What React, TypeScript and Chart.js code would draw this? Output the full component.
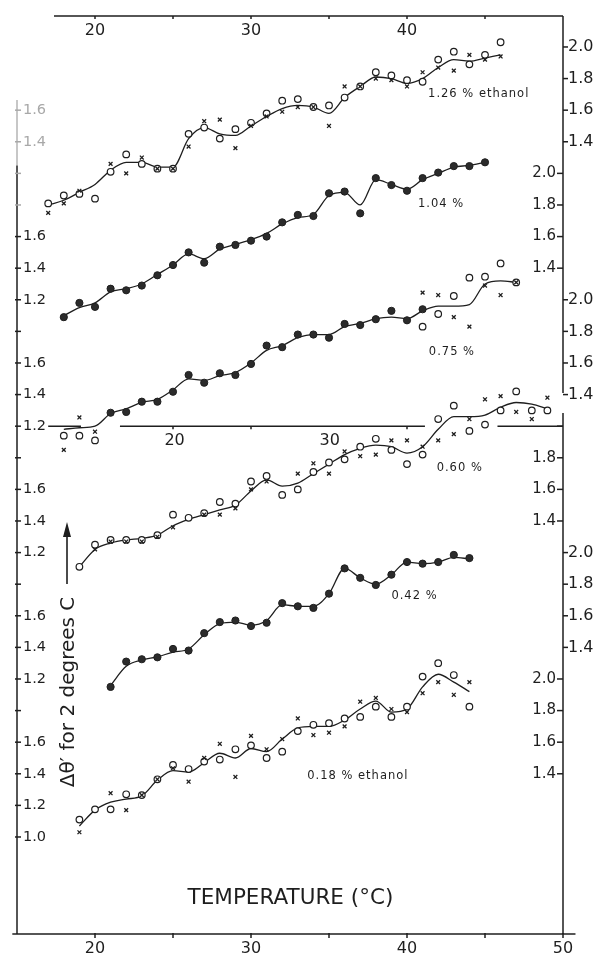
import React, { useEffect, useRef } from "react";
import { Chart, registerables } from "chart.js";

Chart.register(...registerables);

const FONT = '"DejaVu Sans", "Liberation Sans", sans-serif';
const INK = "#1e1e1e";

// ---------- data (values in each curve's own units) ----------
// 1.26 % ethanol
const tempsA = [17, 18, 19, 20, 21, 22, 23, 24, 25, 26, 27, 28, 29, 30, 31, 32, 33, 34, 35, 36, 37, 38, 39, 40, 41, 42, 43, 44, 45, 46];
const openA = [1.01, 1.06, 1.07, 1.04, 1.21, 1.32, 1.26, 1.23, 1.23, 1.45, 1.49, 1.42, 1.48, 1.52, 1.58, 1.66, 1.67, 1.62, 1.63, 1.68, 1.75, 1.84, 1.82, 1.79, 1.78, 1.92, 1.97, 1.89, 1.95, 2.03];
const crossA = [0.95, 1.01, 1.09, null, 1.26, 1.2, 1.3, 1.23, 1.23, 1.37, 1.53, 1.54, 1.36, 1.5, 1.56, 1.59, 1.62, 1.62, 1.5, 1.75, 1.75, 1.8, 1.79, 1.75, 1.84, 1.87, 1.85, 1.95, 1.92, 1.94];
const lineA = [1.0, 1.03, 1.08, 1.13, 1.22, 1.27, 1.27, 1.24, 1.24, 1.42, 1.49, 1.45, 1.44, 1.5, 1.56, 1.61, 1.63, 1.62, 1.58, 1.68, 1.75, 1.81, 1.8, 1.77, 1.8, 1.87, 1.92, 1.91, 1.93, 1.95];

// 1.04 %
const tempsB = [18, 19, 20, 21, 22, 23, 24, 25, 26, 27, 28, 29, 30, 31, 32, 33, 34, 35, 36, 37, 38, 39, 40, 41, 42, 43, 44, 45];
const filledB = [1.09, 1.18, 1.155, 1.27, 1.26, 1.29, 1.355, 1.42, 1.5, 1.435, 1.536, 1.547, 1.574, 1.6, 1.69, 1.737, 1.73, 1.874, 1.885, 1.747, 1.97, 1.926, 1.89, 1.97, 2.005, 2.046, 2.046, 2.07];
const lineB = [1.1, 1.15, 1.18, 1.25, 1.27, 1.3, 1.36, 1.42, 1.49, 1.46, 1.52, 1.55, 1.58, 1.62, 1.68, 1.72, 1.74, 1.86, 1.88, 1.8, 1.96, 1.93, 1.9, 1.96, 2.0, 2.04, 2.05, 2.07];

// 0.75 %
const tempsC = [18, 19, 20, 21, 22, 23, 24, 25, 26, 27, 28, 29, 30, 31, 32, 33, 34, 35, 36, 37, 38, 39, 40, 41, 42, 43, 44, 45, 46, 47];
const filledC = [null, null, null, 1.285, 1.29, 1.355, 1.355, 1.418, 1.524, 1.475, 1.535, 1.524, 1.594, 1.71, 1.7, 1.78, 1.78, 1.76, 1.847, 1.84, 1.877, 1.93, 1.87, 1.94, null, null, null, null, null, null];
const openC = [1.14, 1.14, 1.11, null, null, null, null, null, null, null, null, null, null, null, null, null, null, null, null, null, null, null, null, 1.83, 1.91, 2.024, 2.14, 2.146, 2.23, 2.11];
const crossC = [1.05, 1.255, 1.165, null, null, null, null, null, null, null, null, null, null, null, null, null, null, null, null, null, null, null, null, 2.045, 2.03, 1.89, 1.83, 2.09, 2.03, 2.11];
const lineC = [1.18, 1.19, 1.2, 1.28, 1.31, 1.35, 1.37, 1.43, 1.5, 1.49, 1.52, 1.54, 1.6, 1.68, 1.71, 1.76, 1.78, 1.78, 1.83, 1.85, 1.88, 1.89, 1.88, 1.93, 1.96, 1.96, 1.97, 2.1, 2.12, 2.11];

// 0.60 %
const tempsD = [19, 20, 21, 22, 23, 24, 25, 26, 27, 28, 29, 30, 31, 32, 33, 34, 35, 36, 37, 38, 39, 40, 41, 42, 43, 44, 45, 46, 47, 48, 49];
const openD = [1.11, 1.25, 1.28, 1.28, 1.28, 1.31, 1.44, 1.42, 1.45, 1.52, 1.51, 1.65, 1.685, 1.565, 1.6, 1.71, 1.77, 1.79, 1.87, 1.92, 1.85, 1.76, 1.82, 2.045, 2.13, 1.97, 2.01, 2.1, 2.22, 2.1, 2.1];
const crossD = [null, 1.22, 1.27, 1.27, 1.27, 1.3, 1.36, null, 1.44, 1.44, 1.48, 1.6, 1.65, null, 1.7, 1.765, 1.7, 1.84, 1.81, 1.82, 1.91, 1.91, 1.87, 1.91, 1.95, 2.045, 2.17, 2.19, 2.09, 2.045, 2.18];
const lineD = [1.11, 1.22, 1.26, 1.28, 1.29, 1.31, 1.37, 1.41, 1.44, 1.47, 1.5, 1.59, 1.66, 1.62, 1.64, 1.7, 1.76, 1.82, 1.86, 1.88, 1.87, 1.83, 1.87, 1.98, 2.06, 2.06, 2.07, 2.12, 2.15, 2.14, 2.11];

// 0.42 %
const tempsE = [21, 22, 23, 24, 25, 26, 27, 28, 29, 30, 31, 32, 33, 34, 35, 36, 37, 38, 39, 40, 41, 42, 43, 44];
const filledE = [1.15, 1.31, 1.325, 1.337, 1.39, 1.38, 1.49, 1.56, 1.57, 1.535, 1.556, 1.68, 1.66, 1.65, 1.74, 1.9, 1.84, 1.795, 1.86, 1.94, 1.93, 1.94, 1.985, 1.965];
const lineE = [1.16, 1.28, 1.32, 1.34, 1.37, 1.39, 1.48, 1.55, 1.56, 1.54, 1.57, 1.67, 1.66, 1.66, 1.74, 1.9, 1.84, 1.8, 1.86, 1.94, 1.93, 1.94, 1.97, 1.96];

// 0.18 % ethanol
const tempsF = [19, 20, 21, 22, 23, 24, 25, 26, 27, 28, 29, 30, 31, 32, 33, 34, 35, 36, 37, 38, 39, 40, 41, 42, 43, 44];
const openF = [1.11, 1.175, 1.175, 1.27, 1.265, 1.365, 1.456, 1.43, 1.477, 1.49, 1.555, 1.58, 1.5, 1.54, 1.67, 1.71, 1.72, 1.75, 1.76, 1.825, 1.76, 1.825, 2.015, 2.1, 2.025, 1.825];
const crossF = [1.03, null, 1.277, 1.17, 1.265, 1.365, 1.435, 1.35, 1.5, 1.59, 1.38, 1.64, 1.555, 1.62, 1.75, 1.645, 1.66, 1.7, 1.856, 1.88, 1.81, 1.79, 1.91, 1.98, 1.9, 1.98];
const lineF = [1.07, 1.17, 1.22, 1.24, 1.26, 1.36, 1.42, 1.41, 1.47, 1.53, 1.5, 1.56, 1.54, 1.62, 1.69, 1.7, 1.7, 1.74, 1.81, 1.86, 1.79, 1.81, 1.95, 2.03, 1.98, 1.92];

const curveLabels = ["1.26 % ethanol", "1.04 %", "0.75 %", "0.60 %", "0.42 %", "0.18 % ethanol"];
const curveLabelT = [41.35, 40.7, 41.4, 41.9, 39.0, 33.6];
const curveLabelV = [1.7, 1.806, 1.67, 1.735, 1.725, 1.386];

// ---------- axes ----------
const bottomTicks = [20, 25, 30, 35, 40, 45, 50];
const bottomLabels = [20, 30, 40, 50];
const topTicks = [20, 25, 30, 35, 40, 45];
const topLabels = [20, 30, 40];
const leftLocalTicks = [1.6, 1.4, 1.2, 1.0];
const leftShown = [
  [true, true, false, false],
  [true, true, true, false],
  [true, true, true, false],
  [true, true, true, false],
  [true, true, true, false],
  [true, true, true, true],
];
const rightLocalTicks = [2.0, 1.8, 1.6, 1.4];
const rightInside = [false, true, false, true, false, true];
const midTicks = [25, 30, 40];
const midLabels = ["20", "30"];
const midLabelAt = [25.1, 35.05];
const midSegments = [[17.0, 19.1], [21.6, 41.15], [45.8, 50]];
const yTitle = "Δθ′ for 2 degrees C";
const xTitle = "TEMPERATURE (°C)";

const GROUP_SHIFT = 0.8; // each curve sits 0.8 units below the previous one
const X_MIN = 15;
const X_MAX = 50;
const Y_MAX = 2.196;
const Y_MIN = -3.614;

type Curve = {
  temps: number[];
  line: number[];
  filled?: (number | null)[];
  open?: (number | null)[];
  cross?: (number | null)[];
};

const curves: Curve[] = [
  { temps: tempsA, line: lineA, open: openA, cross: crossA },
  { temps: tempsB, line: lineB, filled: filledB },
  { temps: tempsC, line: lineC, filled: filledC, open: openC, cross: crossC },
  { temps: tempsD, line: lineD, open: openD, cross: crossD },
  { temps: tempsE, line: lineE, filled: filledE },
  { temps: tempsF, line: lineF, open: openF, cross: crossF },
];

const pts = (temps: number[], vals: (number | null)[], k: number) =>
  temps
    .map((t, i) => (vals[i] == null ? null : { x: t, y: (vals[i] as number) - k * GROUP_SHIFT }))
    .filter((p) => p !== null);

function buildDatasets() {
  const ds: any[] = [];
  curves.forEach((c, k) => {
    ds.push({
      data: pts(c.temps, c.line, k),
      borderColor: INK,
      borderWidth: 1.3,
      pointRadius: 0,
      cubicInterpolationMode: "monotone",
      fill: false,
      order: 3,
    });
    if (c.filled)
      ds.push({
        data: pts(c.temps, c.filled, k),
        showLine: false,
        pointStyle: "circle",
        pointRadius: 3.6,
        pointBackgroundColor: "#2b2b2b",
        pointBorderColor: INK,
        pointBorderWidth: 1,
        order: 2,
      });
    if (c.open)
      ds.push({
        data: pts(c.temps, c.open, k),
        showLine: false,
        pointStyle: "circle",
        pointRadius: 3.3,
        pointBackgroundColor: "#ffffff",
        pointBorderColor: INK,
        pointBorderWidth: 1.2,
        order: 2,
      });
    if (c.cross)
      ds.push({
        data: pts(c.temps, c.cross, k),
        showLine: false,
        pointStyle: "crossRot",
        pointRadius: 2.7,
        pointBorderColor: INK,
        pointBorderWidth: 1.3,
        order: 1,
      });
  });
  return ds;
}

const figurePlugin = {
  id: "figureAxes",
  beforeDatasetsDraw(chart: any) {
    const { ctx, chartArea } = chart;
    const X = (t: number) => chart.scales.x.getPixelForValue(t);
    const Y = (g: number) => chart.scales.y.getPixelForValue(g);
    const seg = (x1: number, y1: number, x2: number, y2: number) => {
      ctx.beginPath();
      ctx.moveTo(x1, y1);
      ctx.lineTo(x2, y2);
      ctx.stroke();
    };
    ctx.save();
    ctx.strokeStyle = INK;
    ctx.fillStyle = INK;
    ctx.lineWidth = 1.5;

    // bottom axis
    const yb = chartArea.bottom;
    seg(X(14.7), yb, X(50.8), yb);
    bottomTicks.forEach((t) => seg(X(t), yb - 1, X(t), yb + 4));
    ctx.font = `16px ${FONT}`;
    ctx.textAlign = "center";
    ctx.textBaseline = "middle";
    bottomLabels.forEach((t) => ctx.fillText(String(t), X(t), yb + 15));

    // top axis
    const yt = chartArea.top;
    seg(X(17.37), yt, chartArea.right, yt);
    topTicks.forEach((t) => seg(X(t), yt, X(t), yt + 3));
    topLabels.forEach((t) => ctx.fillText(String(t), X(t), yt + 15));

    // left axis
    const xl = chartArea.left;
    ctx.strokeStyle = "#b5b5b5";
    seg(xl, Y(1.665), xl, Y(1.25));
    ctx.strokeStyle = INK;
    seg(xl, Y(1.25), xl, yb);
    ctx.font = `14.5px ${FONT}`;
    ctx.textAlign = "left";
    leftShown.forEach((row, k) => {
      leftLocalTicks.forEach((v, j) => {
        const y = Y(v - k * GROUP_SHIFT);
        ctx.strokeStyle = k === 0 ? "#a8a8a8" : INK;
        seg(xl - 2, y, xl + 4, y);
        if (row[j]) {
          ctx.fillStyle = k === 0 ? "#a8a8a8" : INK;
          ctx.fillText(v.toFixed(1), xl + 6, y);
        }
      });
    });
    ctx.strokeStyle = INK;
    ctx.fillStyle = INK;

    // right axis (with a small break)
    const xr = chartArea.right;
    seg(xr, yt, xr, Y(-0.19));
    seg(xr, Y(-0.316), xr, yb);
    rightInside.forEach((inside, k) => {
      rightLocalTicks.forEach((v, j) => {
        const y = Y(v - k * GROUP_SHIFT);
        if (inside) {
          seg(xr - 6, y, xr, y);
          if (!(k === 3 && j === 0)) {
            ctx.font = `15px ${FONT}`;
            ctx.textAlign = "right";
            ctx.fillText(v.toFixed(1), xr - 7, y);
          }
        } else {
          seg(xr, y, xr + 5, y);
          ctx.font = `16px ${FONT}`;
          ctx.textAlign = "left";
          ctx.fillText(v.toFixed(1), xr + 5, y);
        }
      });
    });

    // middle broken axis line
    const ym = Y(1.2 - 2 * GROUP_SHIFT);
    midSegments.forEach(([a, b]) => seg(X(a), ym, X(b), ym));
    midTicks.forEach((t) => seg(X(t), ym, X(t), ym + 3));
    ctx.font = `16px ${FONT}`;
    ctx.textAlign = "center";
    midLabels.forEach((s, i) => ctx.fillText(s, X(midLabelAt[i]), ym + 15));
    ctx.restore();
  },
  afterDatasetsDraw(chart: any) {
    const { ctx, chartArea } = chart;
    const X = (t: number) => chart.scales.x.getPixelForValue(t);
    const Y = (g: number) => chart.scales.y.getPixelForValue(g);
    ctx.save();
    ctx.fillStyle = INK;
    ctx.strokeStyle = INK;

    // curve labels
    ctx.font = `11.5px ${FONT}`;
    (ctx as any).letterSpacing = "1px";
    ctx.textAlign = "left";
    ctx.textBaseline = "middle";
    curveLabels.forEach((s, k) => {
      ctx.fillText(s, X(curveLabelT[k]), Y(curveLabelV[k] - k * GROUP_SHIFT));
    });
    (ctx as any).letterSpacing = "0px";

    // x title
    ctx.font = `21.5px ${FONT}`;
    ctx.textAlign = "center";
    ctx.fillText(xTitle, X(32.53), chartArea.bottom - 36);

    // y title, rotated
    ctx.save();
    ctx.translate(chartArea.left + 57, 692);
    ctx.rotate(-Math.PI / 2);
    ctx.font = `20px ${FONT}`;
    ctx.textAlign = "center";
    ctx.textBaseline = "alphabetic";
    ctx.fillText(yTitle, 0, 0);
    ctx.restore();

    // arrow
    const ax = chartArea.left + 50;
    ctx.lineWidth = 1.6;
    ctx.beginPath();
    ctx.moveTo(ax, 584);
    ctx.lineTo(ax, 532);
    ctx.stroke();
    ctx.beginPath();
    ctx.moveTo(ax, 522);
    ctx.lineTo(ax - 4, 537);
    ctx.lineTo(ax + 4, 537);
    ctx.closePath();
    ctx.fill();
    ctx.restore();
  },
};

export default function App() {
  const ref = useRef<HTMLCanvasElement>(null);
  useEffect(() => {
    if (!ref.current) return;
    const chart = new Chart(ref.current, {
      type: "line",
      data: { datasets: buildDatasets() },
      options: {
        responsive: false,
        animation: false,
        events: [],
        layout: { padding: { left: 17, right: 34, top: 16, bottom: 22 } },
        plugins: { legend: { display: false }, tooltip: { enabled: false } },
        scales: {
          x: { type: "linear", min: X_MIN, max: X_MAX, display: false },
          y: { type: "linear", min: Y_MIN, max: Y_MAX, display: false },
        },
      } as any,
      plugins: [figurePlugin],
    });
    return () => chart.destroy();
  }, []);
  return (
    <div style={{ position: "fixed", left: 0, top: 0, width: 597, height: 956, background: "#fff" }}>
      <canvas ref={ref} width={597} height={956} />
    </div>
  );
}
